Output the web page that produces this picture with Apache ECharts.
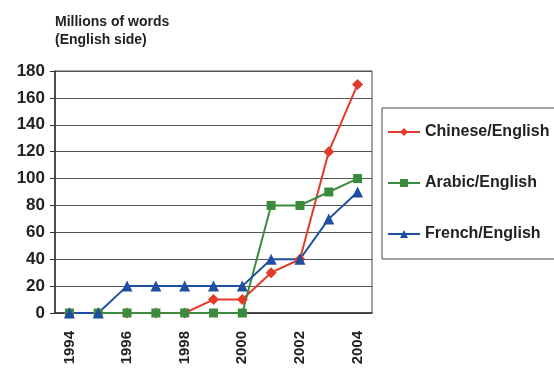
<!DOCTYPE html>
<html>
<head>
<meta charset="utf-8">
<script src="https://cdn.jsdelivr.net/npm/echarts@6/dist/echarts.min.js"></script>
<style>
  html, body { margin: 0; padding: 0; background: #fff; }
  #chart { width: 554px; height: 369px; }
</style>
</head>
<body>
<div id="chart"></div>
<script>
// years on the x axis
let years = ['1994', '1995', '1996', '1997', '1998', '1999', '2000', '2001', '2002', '2003', '2004']
// millions of words, english side
let chinese = [0, 0, 0, 0, 0, 10, 10, 30, 40, 120, 170]
let arabic = [0, 0, 0, 0, 0, 0, 0, 80, 80, 90, 100]
let french = [0, 0, 20, 20, 20, 20, 20, 40, 40, 70, 90]
let seriesNames = ['Chinese/English', 'Arabic/English', 'French/English']

let font = 'Liberation Sans, Arial, sans-serif'
let ink = '#222'

function lineSeries(name, data, color, symbol, size){
  return {
    name: name,
    type: 'line',
    data: data,
    symbol: symbol,
    symbolSize: size,
    lineStyle: {color: color, width: 2},
    itemStyle: {color: color},
    animation: false
  }
}

let myChart = echarts.init(document.getElementById('chart'))
myChart.setOption({
  backgroundColor: '#fff',
  title: {
    text: 'Millions of words\n(English side)',
    left: 50,
    top: 8,
    textStyle: {fontFamily: font, fontWeight: 'bold', fontSize: 14, lineHeight: 18, color: '#222'}
  },
  legend: {
    orient: 'vertical',
    left: 382,
    top: 108,
    data: seriesNames,
    itemWidth: 32,
    itemHeight: 10,
    itemGap: 35,
    padding: [16, 40, 17, 5],
    borderColor: '#444',
    borderWidth: 1,
    textStyle: {fontFamily: font, fontWeight: 'bold', fontSize: 16, color: ink}
  },
  grid: {
    left: 55,
    right: 182,
    top: 71,
    bottom: 56,
    show: true,
    borderColor: '#444',
    borderWidth: 1
  },
  xAxis: {
    type: 'category',
    data: years,
    boundaryGap: true,
    axisLine: {lineStyle: {color: '#333', width: 1.5}},
    axisTick: {interval: 0, length: 6, lineStyle: {color: '#333'}},
    axisLabel: {
      interval: 1,
      rotate: 90,
      margin: 18,
      fontFamily: font,
      fontWeight: 'bold',
      fontSize: 15,
      color: ink
    }
  },
  yAxis: {
    type: 'value',
    min: 0,
    max: 180,
    interval: 20,
    axisLine: {show: true, lineStyle: {color: '#333', width: 1.5}},
    axisTick: {show: true, length: 5, lineStyle: {color: '#333'}},
    splitLine: {lineStyle: {color: '#555', width: 1}},
    axisLabel: {
      margin: 10,
      fontFamily: font,
      fontWeight: 'bold',
      fontSize: 17,
      color: ink
    }
  },
  series: [
    lineSeries(seriesNames[0], chinese, '#e23b2a', 'diamond', 11),
    lineSeries(seriesNames[1], arabic, '#3a8b3e', 'rect', 9),
    lineSeries(seriesNames[2], french, '#1f4fa3', 'triangle', 11)
  ]
})
</script>
</body>
</html>
